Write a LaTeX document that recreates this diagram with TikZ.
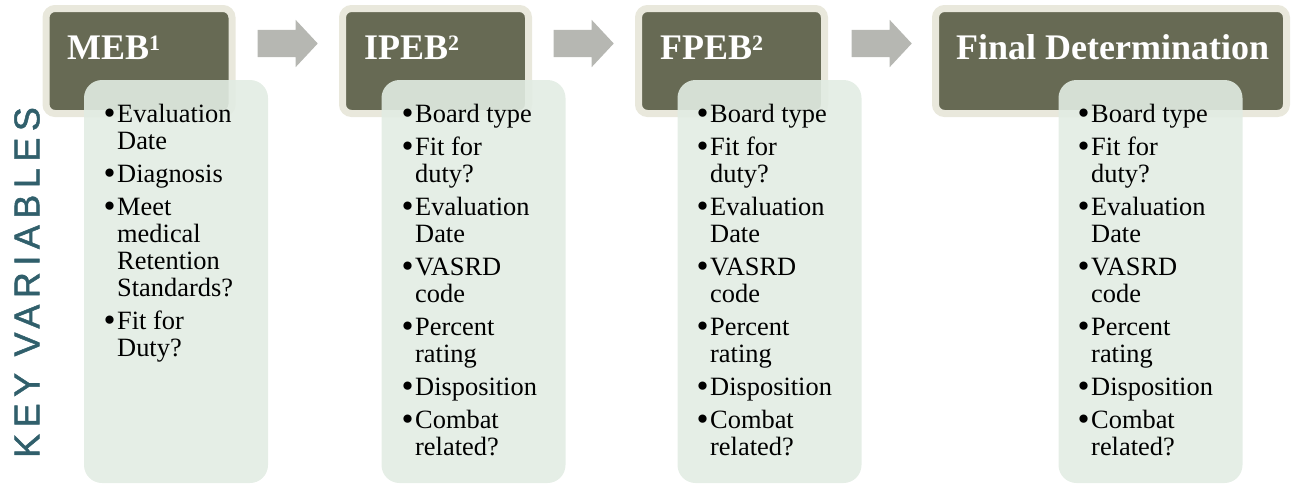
\documentclass[tikz,border=0pt]{standalone}
\usepackage{fontspec}
\usepackage{graphicx}
\setmainfont{Liberation Serif}
\newfontfamily\keyfont[LetterSpace=18,FakeBold=1.3]{Liberation Sans}
\usetikzlibrary{shapes.arrows}
\definecolor{hdolive}{HTML}{676A54}
\definecolor{hdring}{HTML}{E9E8DC}
\definecolor{varfill}{HTML}{E2ECE3}
\definecolor{arrowgray}{HTML}{B6B7B2}
\definecolor{keyteal}{HTML}{305F6B}
\newcommand{\bul}{\makebox[12.5pt][l]{\hspace*{-1pt}\raisebox{-2.6pt}{\scalebox{1.3}{\textbullet}}}}
\newcommand{\bulind}{\hspace*{12.5pt}}
\newcommand{\hdsup}[1]{\raisebox{9pt}{\fontsize{22}{22}\selectfont #1}}
\newcommand{\boardvars}{\rule{0pt}{20pt}\bul Board type\\[6pt]
  \bul Fit for\\ \bulind duty?\\[6pt]
  \bul Evaluation\\ \bulind Date\\[6pt]
  \bul VASRD\\ \bulind code\\[6pt]
  \bul Percent\\ \bulind rating\\[6pt]
  \bul Disposition\\[6pt]
  \bul Combat\\ \bulind related?}

\begin{document}
\begin{tikzpicture}[x=1pt,y=-1pt,
    header/.style={draw=hdring,line width=7pt,fill=hdolive,rounded corners=9pt,minimum height=105pt,inner sep=0pt},
    hdtext/.style={anchor=base west,text=white,font=\fontsize{36}{40}\selectfont\bfseries,inner sep=0pt},
    varbox/.style={fill=varfill,fill opacity=0.9,rounded corners=18pt,minimum width=184pt,minimum height=403pt,inner sep=0pt},
    vartext/.style={anchor=north west,align=left,inner sep=0pt,font=\fontsize{26.4}{27}\selectfont},
    flowarrow/.style={shape=single arrow,fill=arrowgray,anchor=tip,inner xsep=0pt,inner ysep=13.5pt,minimum height=60pt,single arrow head extend=10pt,single arrow tip angle=94}]
        \useasboundingbox (0,0) rectangle (1291,485);
        % stage headers
        \node[header,minimum width=186pt](meb)at(139,61){};
        \node[header,minimum width=186pt](ipeb)at(435.5,61){};
        \node[header,minimum width=186pt](fpeb)at(731.5,61){};
        \node[header,minimum width=351pt](final)at(1111,61){};
        \node[hdtext](mebt)at(67,59){MEB\hdsup{1}};
        \node[hdtext](ipebt)at(364,59){IPEB\hdsup{2}};
        \node[hdtext](fpebt)at(660,59){FPEB\hdsup{2}};
        \node[hdtext](finalt)at(956,59){Final Determination};
        % arrows between stages
        \node[flowarrow](arr1)at(318,43.5){};
        \node[flowarrow](arr2)at(614,43.5){};
        \node[flowarrow](arr3)at(912,43.5){};
        % variable lists
        \node[varbox](mebvars)at(176,281.5){};
        \node[varbox](ipebvars)at(473.5,281.5){};
        \node[varbox](fpebvars)at(769.5,281.5){};
        \node[varbox](finalvars)at(1150.5,281.5){};
        \node[vartext](mebl)at(104.5,102){\rule{0pt}{20pt}\bul Evaluation\\ \bulind Date\\[6pt]
            \bul Diagnosis\\[6pt]
            \bul Meet\\ \bulind medical\\ \bulind Retention\\ \bulind Standards?\\[6pt]
            \bul Fit for\\ \bulind Duty?};
        \node[vartext](ipebl)at(402.5,102){\boardvars};
        \node[vartext](fpebl)at(697.5,102){\boardvars};
        \node[vartext](finall)at(1078.5,102){\boardvars};
        \node[rotate=90,inner sep=0pt,text=keyteal,font=\keyfont\fontsize{36}{36}\selectfont](keyvars)at(27,282.5){KEY VARIABLES};
    \end{tikzpicture}
\end{document}
